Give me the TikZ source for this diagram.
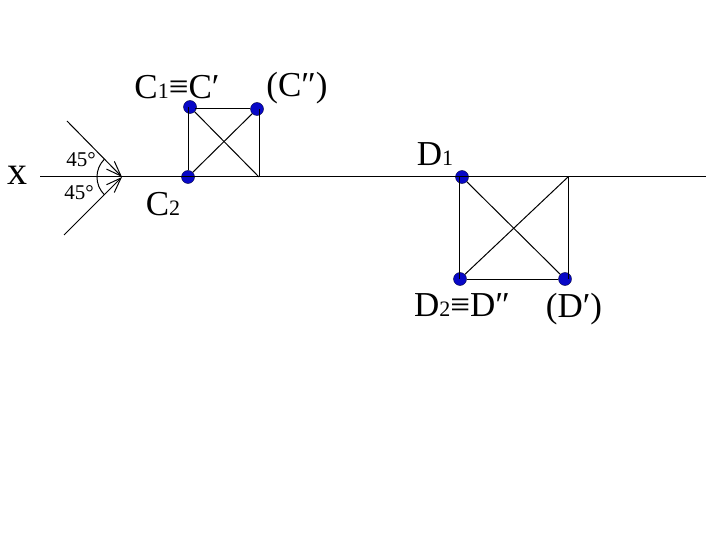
\documentclass[tikz,border=0pt]{standalone}
\usepackage{fontspec}
\setmainfont{Liberation Serif}
\usetikzlibrary{arrows.meta,positioning}
\definecolor{dotblue}{rgb}{0.03,0.03,0.78}
\newcommand{\sbs}[1]{{\fontsize{22}{22}\selectfont #1}}
\tikzset{
  pointdot/.style={circle,fill=dotblue,draw=black!70!dotblue,line width=.4pt,minimum size=13pt,inner sep=0pt},
  biglabel/.style={font=\fontsize{35}{35}\selectfont,inner sep=0pt},
  anglelabel/.style={font=\fontsize{21}{21}\selectfont,inner sep=0pt}
}
\begin{document}
\begin{tikzpicture}[x=1pt,y=-1pt,on grid,line width=1pt]
       \useasboundingbox (0,0) rectangle (720,540);

       \coordinate (x_l) at (40,177);
       \coordinate (x_r) at (706,177);
       \coordinate (apex) at (122,177);
       \coordinate (ray_u) at (67,121);
       \coordinate (ray_d) at (64,235);
       \coordinate (c_f) at (259,177);
       \coordinate (c_t) at (195,109);
       \coordinate (d_f) at (568,177);
       \coordinate (d_t) at (459,177);
       \coordinate (d_b) at (459,279);

       \node[pointdot] (c_2) at (188,177) {};
       \node[pointdot] (c_1) at (190,107) {};
       \node[pointdot] (c_3) at (257,109) {};
       \node[pointdot] (d_1) at (462,177) {};
       \node[pointdot] (d_2) at (460,279) {};
       \node[pointdot] (d_3) at (565,279) {};

       \node[biglabel] (lc_1) [above left=20pt and 13pt of c_1] {C\sbs{1}≡C′};
       \node[biglabel] (lc_3) [above right=21pt and 40pt of c_3] {(C″)};
       \node[biglabel] (lc_2) [below left=27pt and 25pt of c_2] {C\sbs{2}};
       \node[biglabel] (ld_1) [above left=23pt and 27pt of d_1] {D\sbs{1}};
       \node[biglabel] (ld_2) [below right=26pt and 2pt of d_2] {D\sbs{2}≡D″};
       \node[biglabel] (ld_3) [below right=30pt and 9pt of d_3] {(D′)};
       \node[font=\fontsize{40}{40}\selectfont,inner sep=0pt] (lx) at (18,175) {x};
       \node[anglelabel] (la_u) at (81,160) {45°};
       \node[anglelabel] (la_d) at (79,193) {45°};

       \draw (x_l) -- (x_r);
       \draw (c_2) -- (c_2 |- c_1);
       \draw (c_f) -- (c_f |- c_3);
       \draw (c_t) -- (c_3);
       \draw (c_1) -- (c_f);
       \draw (c_2) -- (c_3);
       \draw (d_t) -- (d_b);
       \draw (d_f) -- (d_f |- d_3);
       \draw (d_2) -- (d_3);
       \draw (d_1) -- (d_3);
       \draw (d_2) -- (d_f);

       \draw[-{Straight Barb[length=15pt,width=11pt]}] (ray_u) -- (apex);
       \draw[-{Straight Barb[length=15pt,width=11pt]}] (ray_d) -- (apex);
       \draw (apex) ++(-17.7,-17.7) arc[start angle=225,end angle=135,radius=25];
     \end{tikzpicture}
\end{document}
